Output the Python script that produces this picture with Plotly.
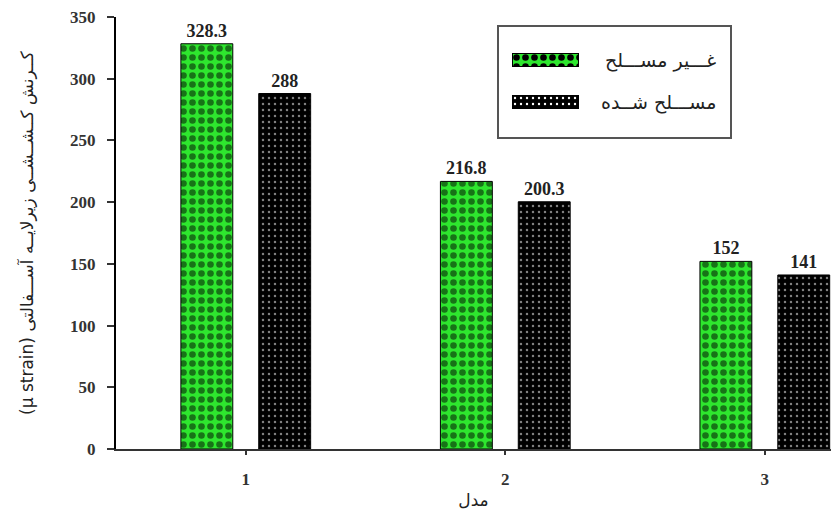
import base64
import plotly.graph_objects as go

models = [1, 2, 3]
unreinforced = [328.3, 216.8, 152]
reinforced = [288, 200.3, 141]
series_names = ["غـــیر مســـلح", "مســـلح شــده"]
y_title = "(µ strain) کــرنش کــشــشــی زیرلایــه آســـفالتی"
x_title = "مدل"
y_ticks = [0, 50, 100, 150, 200, 250, 300, 350]

GREEN = "#2ee62e"
label_font = dict(family="Liberation Serif, Times New Roman, serif", size=18, color="#222", weight="bold")
tick_font = dict(family="Liberation Serif, Times New Roman, serif", size=17, color="#333", weight="bold")
fa_font = "DejaVu Sans, Noto Sans, sans-serif"

fig = go.Figure()
fig.add_trace(go.Bar(
    x=models, y=unreinforced, name=series_names[0],
    width=0.2, offset=-0.25,
    marker=dict(color=GREEN,
                line=dict(color="black", width=1),
                pattern=dict(shape=".", fgcolor="black", bgcolor=GREEN,
                             size=9, solidity=0.42, fillmode="overlay")),
    texttemplate="%{y}", textposition="outside", textfont=label_font,
    cliponaxis=False, showlegend=False,
))
fig.add_trace(go.Bar(
    x=models, y=reinforced, name=series_names[1],
    width=0.2, offset=0.05,
    marker=dict(color="black",
                line=dict(color="black", width=1),
                pattern=dict(shape=".", fgcolor="white", bgcolor="black",
                             size=6, solidity=0.13, fillmode="overlay")),
    texttemplate="%{y}", textposition="outside", textfont=label_font,
    cliponaxis=False, showlegend=False,
))

# --- hand-drawn legend (wide patterned swatches like the reference) ---
def swatch_svg(bg, fg, period, radius):
    svg = (
        "<svg xmlns='http://www.w3.org/2000/svg' width='67' height='14' viewBox='0 0 67 14'>"
        "<defs><pattern id='p' width='%s' height='%s' patternUnits='userSpaceOnUse'>"
        "<rect width='%s' height='%s' fill='%s'/>"
        "<circle cx='%s' cy='%s' r='%s' fill='%s'/></pattern></defs>"
        "<rect x='0.5' y='0.5' width='66' height='13' fill='url(#p)' stroke='black' stroke-width='1'/></svg>"
    ) % (period, period, period, period, bg, period / 2, period / 2, radius, fg)
    return "data:image/svg+xml;base64," + base64.b64encode(svg.encode()).decode()

L, T, PW, PH = 116, 17, 715, 432
def px(x):
    return (x - L) / PW
def py(y):
    return (T + PH - y) / PH

fig.add_shape(type="rect", xref="paper", yref="paper",
              x0=px(498), x1=px(731), y0=py(138), y1=py(26),
              line=dict(color="#555", width=2), fillcolor="rgba(0,0,0,0)", layer="below")
swatches = [swatch_svg(GREEN, "black", 9, 3.3), swatch_svg("black", "white", 6, 1.2)]
rows = [60, 102]
for name, src, yc in zip(series_names, swatches, rows):
    fig.add_layout_image(source=src, xref="paper", yref="paper",
                         x=px(512), y=py(yc - 7), sizex=67 / PW, sizey=14 / PH,
                         xanchor="left", yanchor="top", sizing="stretch", layer="above")
    fig.add_annotation(text=name, xref="paper", yref="paper",
                       x=px(718), y=py(yc), xanchor="right", yanchor="middle",
                       showarrow=False, font=dict(family=fa_font, size=19, color="#222"))

fig.update_layout(
    width=831, height=511,
    margin=dict(l=L, r=831 - L - PW, t=T, b=511 - T - PH),
    plot_bgcolor="white", paper_bgcolor="white",
    barmode="group",
    showlegend=False,
    xaxis=dict(
        range=[0.5, 3.255], tickvals=models, ticktext=[str(m) for m in models],
        showline=True, linecolor="#333", linewidth=2,
        ticks="outside", ticklen=4, tickwidth=1.5, tickcolor="#333",
        ticklabelstandoff=10,
        tickfont=tick_font, showgrid=False, zeroline=False,
        title=dict(text=x_title, font=dict(family=fa_font, size=17, color="#222"), standoff=6),
    ),
    yaxis=dict(
        range=[0, 350], tickvals=y_ticks,
        showline=True, linecolor="black", linewidth=2,
        ticks="outside", ticklen=7, tickwidth=1.5, tickcolor="#333",
        ticklabelstandoff=8,
        tickfont=tick_font, showgrid=False, zeroline=False,
        title=dict(text=y_title, font=dict(family=fa_font, size=17, color="#222"), standoff=32),
    ),
)

fig.write_html("out.html")
